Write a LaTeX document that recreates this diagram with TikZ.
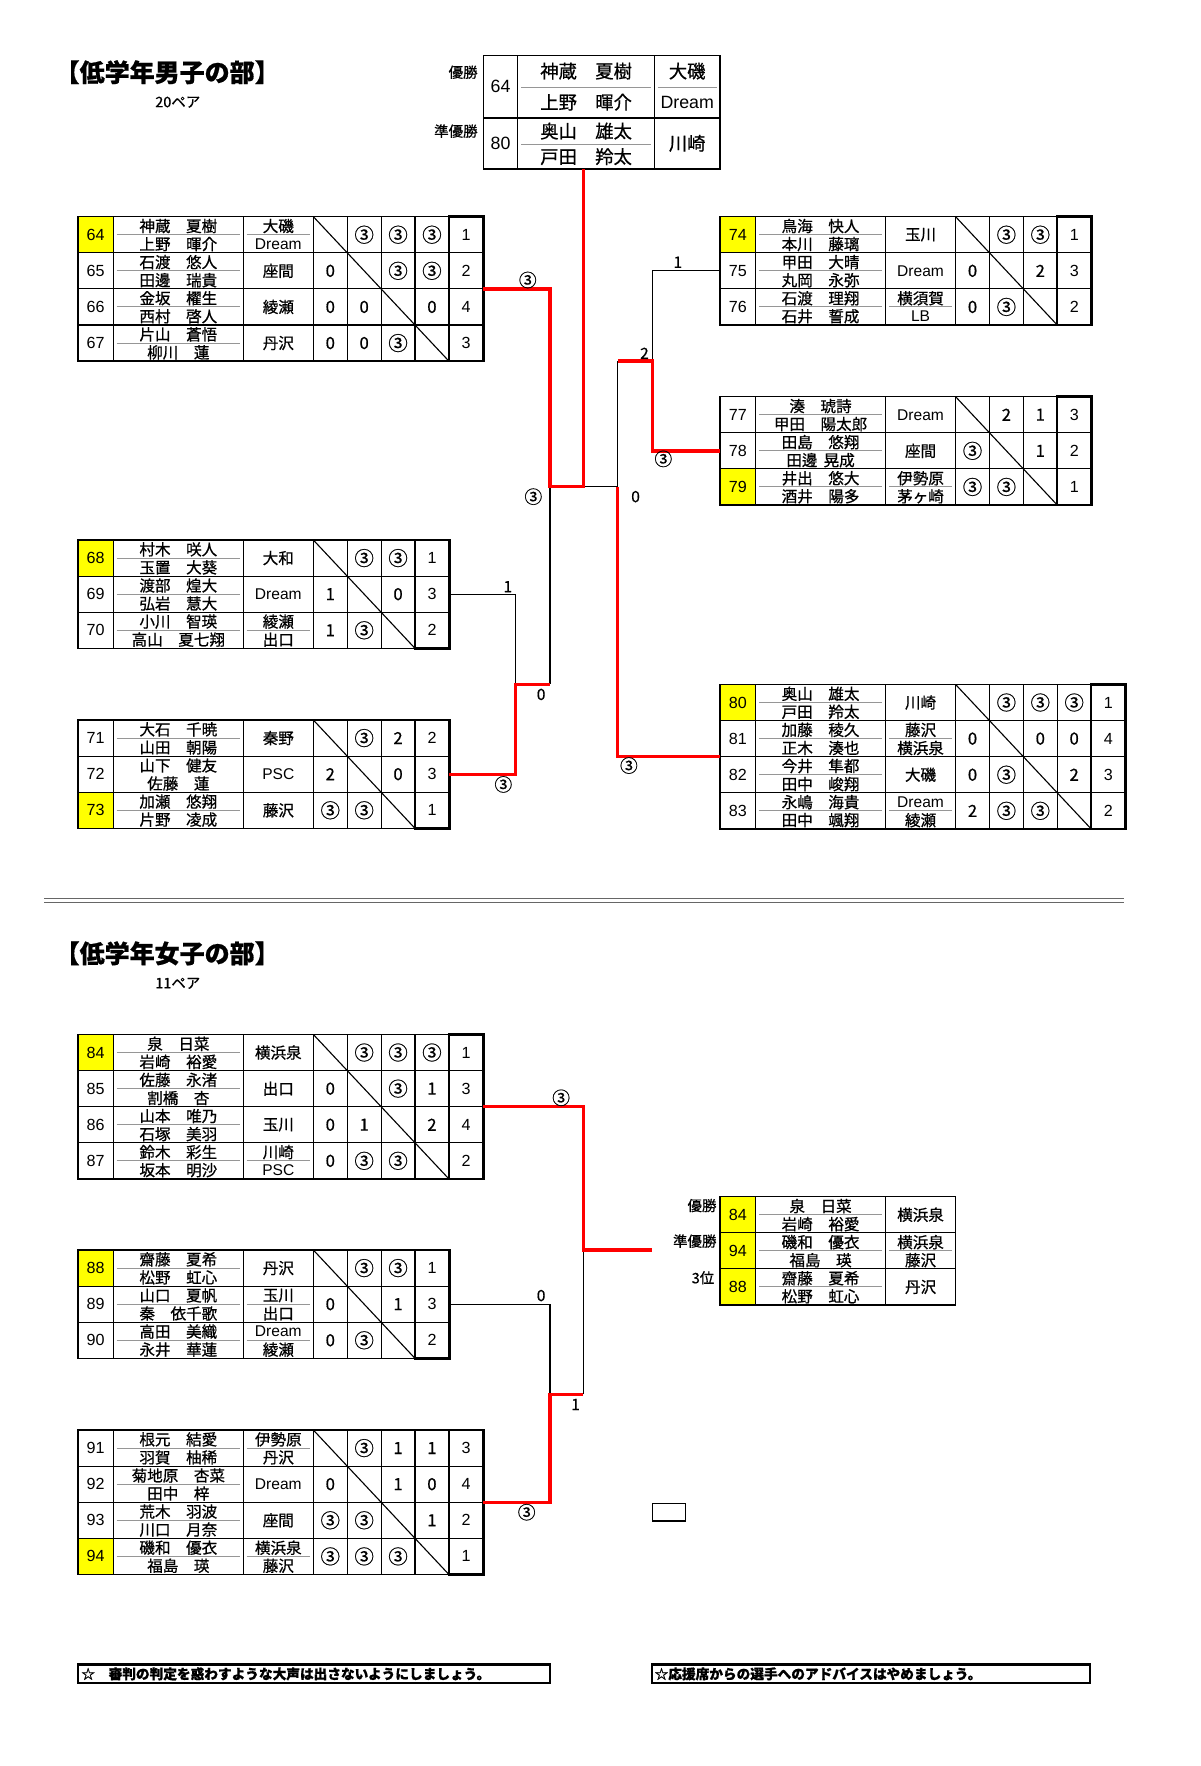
\documentclass[tikz,border=0pt]{standalone}
\usepackage{fontspec}
\setmainfont{Noto Sans CJK JP}[FakeBold=0.7]
\newfontfamily\lat{Liberation Sans}
\definecolor{hl}{RGB}{255,255,0}
\definecolor{wred}{RGB}{255,0,0}
\definecolor{divgray}{RGB}{150,150,150}
\def\colN{32}\def\colA{117}\def\colT{63}\def\colR{30.5}\def\colK{31}\def\rowH{32.5}
\def\diagmark{x}
\def\circmark{③}
\def\namediv{1}
\newcommand\zs{\hspace{1em}}
\tikzset{
  grid/.style={line width=1pt, black},
  outer/.style={line width=1.4pt, black},
  rankbox/.style={line width=2.2pt, black},
  div/.style={line width=0.9pt, divgray},
  cell/.style={inner sep=0pt, font=\fontsize{14}{14}\selectfont},
  rescell/.style={inner sep=0pt, font=\fontsize{15}{15}\selectfont},
  circcell/.style={inner sep=0pt, font=\fontsize{17.5}{17}\selectfont},
  numcell/.style={inner sep=0pt, font=\lat\fontsize{14.5}{14}\selectfont},
  bigcell/.style={inner sep=0pt, font=\fontsize{16.5}{17}\selectfont},
  bignum/.style={inner sep=0pt, font=\lat\fontsize{16}{16}\selectfont},
  lbl/.style={inner sep=0pt, font=\fontsize{13}{14}\selectfont},
  score/.style={inner sep=0pt, font=\fontsize{14}{14}\selectfont},
  circscore/.style={inner sep=0pt, font=\fontsize{16}{16}\selectfont},
  title/.style={inner sep=0pt, font=\fontsize{22.5}{24}\selectfont\bfseries},
  foot/.style={inner sep=0pt, font=\fontsize{12.3}{13}\selectfont\bfseries},
  win/.style={wred, line width=3pt},
  lose/.style={black, line width=1pt},
  sepline/.style={line width=0.8pt, black!60},
  fbox/.style={draw, line width=2pt},
}
\newcommand\rrsetup[4]{%
  \def\rrPre{#1}\def\rrX{#2}\def\rrY{#3}\def\rrN{#4}%
  \pgfmathsetmacro\rrXA{#2+\colN}%
  \pgfmathsetmacro\rrXT{\rrXA+\colA}%
  \pgfmathsetmacro\rrXR{\rrXT+\colT}%
  \pgfmathsetmacro\rrXK{\rrXR+#4*\colR}%
  \pgfmathsetmacro\rrXE{\rrXK+\colK}%
  \pgfmathsetmacro\rrYBot{#3+#4*\rowH}%
  \pgfmathsetmacro\rrXNc{#2+\colN/2}%
  \pgfmathsetmacro\rrXAc{\rrXA+\colA/2}%
  \pgfmathsetmacro\rrXTc{\rrXT+\colT/2}%
  \pgfmathsetmacro\rrXKc{\rrXK+\colK/2}%
}
\newcommand\tmone[1]{\node[cell] (\rrPre t\rrI) at (\rrXTc,\rrYC) {#1};}
\newcommand\tmtwo[2]{\node[cell] (\rrPre t\rrI) at (\rrXTc,\rrYU) {#1};
  \node[cell] (\rrPre u\rrI) at (\rrXTc,\rrYL) {#2};
  \draw[div] (\rrXT+3,\rrYC) -- (\rrXR-3,\rrYC);}
\newcommand\rrbase[6]{%
  \def\rrI{#1}%
  \pgfmathsetmacro\rrYT{\rrY+(#1-1)*\rowH}%
  \pgfmathsetmacro\rrYB{\rrYT+\rowH}%
  \pgfmathsetmacro\rrYC{\rrYT+\rowH/2}%
  \pgfmathsetmacro\rrYU{\rrYT+\rowH/4+0.3}%
  \pgfmathsetmacro\rrYL{\rrYT+3*\rowH/4+0.3}%
  \fill[#6] (\rrX,\rrYT) rectangle (\rrXA,\rrYB);
  \node[numcell] (\rrPre n#1) at (\rrXNc,\rrYC) {#2};
  \node[cell] (\rrPre a#1) at (\rrXAc,\rrYU) {#3};
  \node[cell] (\rrPre b#1) at (\rrXAc,\rrYL) {#4};
  \ifnum\namediv=1 \draw[div] (\rrXA+3,\rrYC) -- (\rrXT-3,\rrYC);\fi
  #5%
}
\newcommand\rrrow[8]{%
  \rrbase{#1}{#2}{#3}{#4}{#5}{#8}%
  \foreach \rv [count=\cj] in {#6} {%
    \edef\rvx{\rv}%
    \ifx\rvx\diagmark\else
      \ifx\rvx\circmark
        \node[circcell] (\rrPre r#1c\cj) at ({\rrXR+(\cj-0.5)*\colR},\rrYC) {\rv};
      \else
        \node[rescell] (\rrPre r#1c\cj) at ({\rrXR+(\cj-0.5)*\colR},\rrYC) {\rv};
      \fi
    \fi
  }%
  \node[numcell] (\rrPre k#1) at (\rrXKc,\rrYC) {#7};
}
\newcommand\rrframe{%
  \foreach \ri in {1,...,\rrN} {\draw[grid] (\rrX,{\rrY+\ri*\rowH}) -- (\rrXE,{\rrY+\ri*\rowH});}
  \draw[grid] (\rrXA,\rrY) -- (\rrXA,\rrYBot) (\rrXT,\rrY) -- (\rrXT,\rrYBot) (\rrXR,\rrY) -- (\rrXR,\rrYBot);
  \foreach \ri in {1,...,\rrN} {\draw[grid] ({\rrXR+\ri*\colR},\rrY) -- ({\rrXR+\ri*\colR},\rrYBot);}
  \draw[grid] (\rrXR,\rrY) -- (\rrXK,\rrYBot);
  \draw[outer] (\rrX,\rrY) rectangle (\rrXK,\rrYBot);
  \draw[rankbox] (\rrXK,\rrY) rectangle (\rrXE,\rrYBot);
}
\begin{document}
\begin{tikzpicture}[x=1pt,y=-1pt]
\fill[white] (0,0) rectangle (1080,1589.4);
\useasboundingbox (0,0) rectangle (1080,1589.4);

% ---------------- headers (boys) ----------------
\node[title,anchor=west] (titleB) at (49,65) {【低学年男子の部】};
\node[lbl] (pairsB) at (160,92) {20ペア};

% top result table (boys)
\node[lbl,anchor=east] (winB) at (430,65) {優勝};
\node[lbl,anchor=east] (runB) at (430,118) {準優勝};
\draw[grid] (466,50) -- (466,152) (589,50) -- (589,152);
\draw[div] (469,78.5) -- (586,78.5) (592,78.5) -- (645,78.5) (469,130) -- (586,130);
\draw[line width=1.5pt] (435,106) -- (648,106);
\draw[outer] (435,50) rectangle (648,152);
\node[bignum] (tn64) at (450.5,78) {64};
\node[bigcell] (ta64) at (527.5,64) {神蔵\zs 夏樹};
\node[bigcell] (tb64) at (527.5,92) {上野\zs 暉介};
\node[bigcell] (tt64) at (618.5,64) {大磯};
\node[bignum] (tu64) at (618.5,92) {Dream};
\node[bignum] (tn80) at (450.5,129) {80};
\node[bigcell] (ta80) at (527.5,118) {奥山\zs 雄太};
\node[bigcell] (tb80) at (527.5,141) {戸田\zs 羚太};
\node[bigcell] (tt80) at (618.5,129) {川崎};
\coordinate (topbot) at (525,152);

% ---------------- group 64-67 ----------------
\rrsetup{ga}{70}{195}{4}
\rrrow{1}{64}{神蔵\zs 夏樹}{上野\zs 暉介}{\tmtwo{大磯}{\lat Dream}}{x,③,③,③}{1}{hl}
\rrrow{2}{65}{石渡\zs 悠人}{田邊\zs 瑞貴}{\tmone{座間}}{0,x,③,③}{2}{white}
\rrrow{3}{66}{金坂\zs 櫂生}{西村\zs 啓人}{\tmone{綾瀬}}{0,0,x,0}{4}{white}
\rrrow{4}{67}{片山\zs 蒼悟}{柳川\zs 蓮}{\tmone{丹沢}}{0,0,③,x}{3}{white}
\rrframe
\coordinate (gaout) at (\rrXE,{\rrY+2*\rowH});

% ---------------- group 74-76 ----------------
\rrsetup{gb}{648}{195}{3}
\rrrow{1}{74}{鳥海\zs 快人}{本川\zs 藤璃}{\tmone{玉川}}{x,③,③}{1}{hl}
\rrrow{2}{75}{甲田\zs 大晴}{丸岡\zs 永弥}{\tmone{\lat Dream}}{0,x,2}{3}{white}
\rrrow{3}{76}{石渡\zs 理翔}{石井\zs 誓成}{\tmtwo{横須賀}{\lat LB}}{0,③,x}{2}{white}
\rrframe
\coordinate (gbout) at (\rrX,{\rrY+1.5*\rowH});

% ---------------- group 77-79 ----------------
\rrsetup{ge}{648}{357}{3}
\rrrow{1}{77}{湊\zs 琥詩}{甲田\zs 陽太郎}{\tmone{\lat Dream}}{x,2,1}{3}{white}
\rrrow{2}{78}{田島\zs 悠翔}{田邊\hspace{0.4em}晃成}{\tmone{座間}}{③,x,1}{2}{white}
\rrrow{3}{79}{井出\zs 悠大}{酒井\zs 陽多}{\tmtwo{伊勢原}{茅ヶ崎}}{③,③,x}{1}{hl}
\rrframe
\coordinate (geout) at (\rrX,{\rrY+1.5*\rowH});

% ---------------- group 68-70 ----------------
\rrsetup{gc}{70}{486}{3}
\rrrow{1}{68}{村木\zs 咲人}{玉置\zs 大葵}{\tmone{大和}}{x,③,③}{1}{hl}
\rrrow{2}{69}{渡部\zs 煌大}{弘岩\zs 慧大}{\tmone{\lat Dream}}{1,x,0}{3}{white}
\rrrow{3}{70}{小川\zs 智瑛}{高山\zs 夏七翔}{\tmtwo{綾瀬}{出口}}{1,③,x}{2}{white}
\rrframe
\coordinate (gcout) at (\rrXE,{\rrY+1.5*\rowH});

% ---------------- group 71-73 ----------------
\rrsetup{gd}{70}{648}{3}
\rrrow{1}{71}{大石\zs 千暁}{山田\zs 朝陽}{\tmone{秦野}}{x,③,2}{2}{white}
\def\namediv{0}
\rrrow{2}{72}{山下\zs 健友}{佐藤\zs 蓮}{\tmone{\lat PSC}}{2,x,0}{3}{white}
\def\namediv{1}
\rrrow{3}{73}{加瀬\zs 悠翔}{片野\zs 凌成}{\tmone{藤沢}}{③,③,x}{1}{hl}
\rrframe
\coordinate (gdout) at (\rrXE,{\rrY+1.5*\rowH});

% ---------------- group 80-83 ----------------
\rrsetup{gf}{648}{616}{4}
\rrrow{1}{80}{奥山\zs 雄太}{戸田\zs 羚太}{\tmone{川崎}}{x,③,③,③}{1}{hl}
\rrrow{2}{81}{加藤\zs 稜久}{正木\zs 湊也}{\tmtwo{藤沢}{横浜泉}}{0,x,0,0}{4}{white}
\rrrow{3}{82}{今井\zs 隼都}{田中\zs 峻翔}{\tmone{大磯}}{0,③,x,2}{3}{white}
\rrrow{4}{83}{永嶋\zs 海貴}{田中\zs 颯翔}{\tmtwo{\lat Dream}{綾瀬}}{2,③,③,x}{2}{white}
\rrframe
\coordinate (gfout) at (\rrX,{\rrY+2*\rowH});

% ---------------- boys bracket ----------------
\coordinate (mA1) at (495,260);
\coordinate (mSL) at (495,438);
\coordinate (mF) at (525,438);
\coordinate (mQ1a) at (464,534.75);
\coordinate (mQL) at (464,616);
\coordinate (mQ1b) at (464,696.75);
\coordinate (mSLb) at (495,616);
\coordinate (mQRa) at (587,243.75);
\coordinate (mQR) at (587,325);
\coordinate (mQRb) at (587,405.75);
\coordinate (mSR) at (556,325);
\coordinate (mSRm) at (556,438);
\coordinate (mSRb) at (556,681);
\draw[lose] (gcout) -- (mQ1a) -- (mQL);
\draw[lose] (mSLb) -- (mSL);
\draw[lose] (gbout) -- (mQRa) -- (mQR);
\draw[lose] (mSR) -- (mSRm) -- (mF);
\draw[win] (gdout) -- (mQ1b) -- (mQL) -- (mSLb);
\draw[win] (geout) -- (mQRb) -- (mQR) -- (mSR);
\draw[win] (gfout) -- (mSRb) -- (mSRm);
\draw[win] (gaout) -- (mA1) -- (mSL) -- (mF) -- (topbot);
\node[circscore] (s1) at (475,252) {③};
\node[score] (s2) at (457,528) {1};
\node[circscore] (s3) at (453,706) {③};
\node[score] (s4) at (487,625) {0};
\node[circscore] (s5) at (480,447) {③};
\node[score] (s6) at (610,236) {1};
\node[score] (s7) at (580,318) {2};
\node[circscore] (s8) at (597,413) {③};
\node[score] (s9) at (572,447) {0};
\node[circscore] (s10) at (566,689) {③};

% ---------------- separator ----------------
\coordinate (sepA) at (40,808.5);
\coordinate (sepB) at (1012,808.5);
\coordinate (sepC) at (40,812);
\coordinate (sepD) at (1012,812);
\draw[sepline] (sepA) -- (sepB);
\draw[sepline] (sepC) -- (sepD);

% ---------------- headers (girls) ----------------
\node[title,anchor=west] (titleG) at (49,858) {【低学年女子の部】};
\node[lbl] (pairsG) at (160,885) {11ペア};

% ---------------- group 84-87 ----------------
\rrsetup{ha}{70}{931}{4}
\rrrow{1}{84}{泉\zs 日菜}{岩崎\zs 裕愛}{\tmone{横浜泉}}{x,③,③,③}{1}{hl}
\rrrow{2}{85}{佐藤\zs 永渚}{割橋\zs 杏}{\tmone{出口}}{0,x,③,1}{3}{white}
\rrrow{3}{86}{山本\zs 唯乃}{石塚\zs 美羽}{\tmone{玉川}}{0,1,x,2}{4}{white}
\rrrow{4}{87}{鈴木\zs 彩生}{坂本\zs 明沙}{\tmtwo{川崎}{\lat PSC}}{0,③,③,x}{2}{white}
\rrframe
\coordinate (waout) at (\rrXE,{\rrY+2*\rowH});

% ---------------- group 88-90 ----------------
\rrsetup{hb}{70}{1125}{3}
\rrrow{1}{88}{齋藤\zs 夏希}{松野\zs 虹心}{\tmone{丹沢}}{x,③,③}{1}{hl}
\rrrow{2}{89}{山口\zs 夏帆}{秦\zs 依千歌}{\tmtwo{玉川}{出口}}{0,x,1}{3}{white}
\rrrow{3}{90}{高田\zs 美織}{永井\zs 華蓮}{\tmtwo{\lat Dream}{綾瀬}}{0,③,x}{2}{white}
\rrframe
\coordinate (wbout) at (\rrXE,{\rrY+1.5*\rowH});

% ---------------- group 91-94 ----------------
\rrsetup{hc}{70}{1287}{4}
\rrrow{1}{91}{根元\zs 結愛}{羽賀\zs 柚稀}{\tmtwo{伊勢原}{丹沢}}{x,③,1,1}{3}{white}
\rrrow{2}{92}{菊地原\zs 杏菜}{田中\zs 梓}{\tmone{\lat Dream}}{0,x,1,0}{4}{white}
\rrrow{3}{93}{荒木\zs 羽波}{川口\zs 月奈}{\tmone{座間}}{③,③,x,1}{2}{white}
\rrrow{4}{94}{磯和\zs 優衣}{福島\zs 瑛}{\tmtwo{横浜泉}{藤沢}}{③,③,③,x}{1}{hl}
\rrframe
\coordinate (wcout) at (\rrXE,{\rrY+2*\rowH});

% ---------------- girls bracket ----------------
\coordinate (wA1) at (525,996);
\coordinate (wF) at (525,1125);
\coordinate (wEnd) at (587,1125);
\coordinate (wB1) at (495,1173.75);
\coordinate (wS) at (495,1255);
\coordinate (wSr) at (525,1255);
\coordinate (wC1) at (495,1352);
\draw[lose] (wbout) -- (wB1) -- (wS);
\draw[lose] (wSr) -- (wF);
\draw[win] (wcout) -- (wC1) -- (wS) -- (wSr);
\draw[win] (waout) -- (wA1) -- (wF) -- (wEnd);
\node[circscore] (w1) at (505,988) {③};
\node[score] (w2) at (487,1166) {0};
\node[score] (w3) at (518,1264) {1};
\node[circscore] (w4) at (474,1361) {③};

% ---------------- girls result table ----------------
\rrsetup{hr}{648}{1077}{3}
\rrbase{1}{84}{泉\zs 日菜}{岩崎\zs 裕愛}{\tmone{横浜泉}}{hl}
\rrbase{2}{94}{磯和\zs 優衣}{福島\zs 瑛}{\tmtwo{横浜泉}{藤沢}}{hl}
\rrbase{3}{88}{齋藤\zs 夏希}{松野\zs 虹心}{\tmone{丹沢}}{hl}
\draw[grid] (\rrXA,\rrY) -- (\rrXA,\rrYBot) (\rrXT,\rrY) -- (\rrXT,\rrYBot);
\draw[grid] (\rrX,{\rrY+\rowH}) -- (\rrXR,{\rrY+\rowH}) (\rrX,{\rrY+2*\rowH}) -- (\rrXR,{\rrY+2*\rowH});
\draw[outer] (\rrX,\rrY) rectangle (\rrXR,\rrYBot);
\node[lbl,anchor=east] (winG) at (645,1085) {優勝};
\node[lbl,anchor=east] (runG) at (645,1117) {準優勝};
\node[lbl,anchor=east] (thirdG) at (643,1150) {3位};

% small empty box
\node[draw, line width=1.2pt, minimum width=30pt, minimum height=16pt, inner sep=0pt] (emptybox) at (602,1361) {};

% ---------------- footer ----------------
\node[fbox, minimum width=425pt, minimum height=17pt, inner sep=0pt] (footL) at (282.5,1506.5) {};
\node[foot, anchor=west] (footLt) at (73,1506.5) {☆\zs 審判の判定を惑わすような大声は出さないようにしましょう。};
\node[fbox, minimum width=394pt, minimum height=17pt, inner sep=0pt] (footR) at (784,1506.5) {};
\node[foot, anchor=west] (footRt) at (589,1506.5) {☆応援席からの選手へのアドバイスはやめましょう。};
\end{tikzpicture}
\end{document}
